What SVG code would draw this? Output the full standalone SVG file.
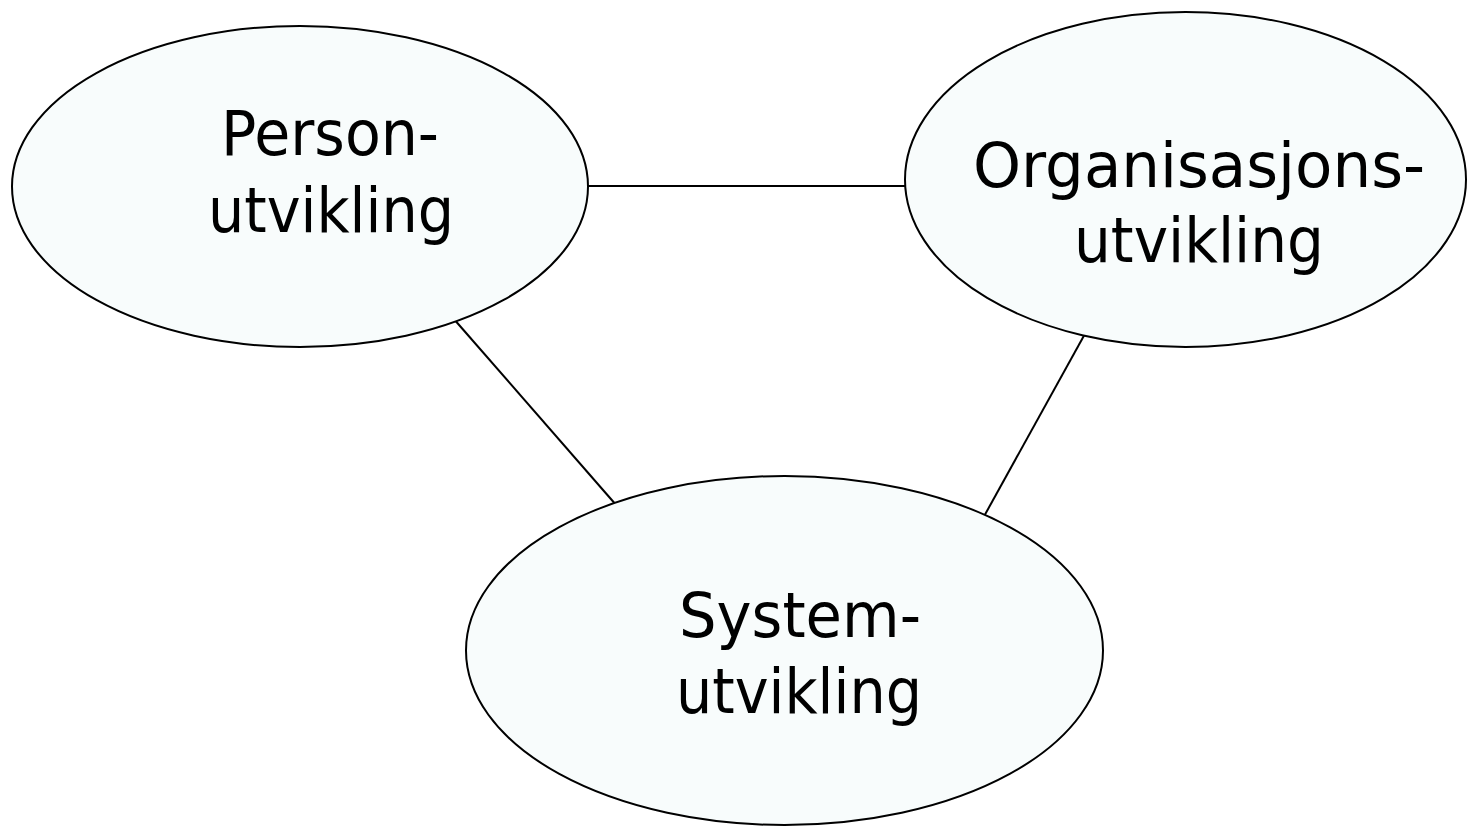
<svg xmlns="http://www.w3.org/2000/svg" width="1467" height="827" viewBox="0 0 1467 827">
  <style>
    .node ellipse { fill: #f8fcfc; stroke: #000; stroke-width: 2; }
    .node text { font-family: "DejaVu Sans", "Liberation Sans", sans-serif; font-size: 62px; fill: #000; text-anchor: middle; }
    .conn line { stroke: #000; stroke-width: 2; }
  </style>
  <rect x="0" y="0" width="1467" height="827" fill="#ffffff"/>
  <g id="connectors" class="conn">
    <line x1="588" y1="186" x2="905" y2="186"/>
    <line x1="453" y1="318" x2="617" y2="506"/>
    <line x1="1086" y1="332" x2="982" y2="520"/>
  </g>
  <g id="person" class="node">
    <ellipse cx="300" cy="186.5" rx="288" ry="160.5"/>
    <text x="330" y="155" textLength="218" lengthAdjust="spacingAndGlyphs">Person-</text>
    <text x="331" y="232" textLength="246" lengthAdjust="spacingAndGlyphs">utvikling</text>
  </g>
  <g id="organisasjon" class="node">
    <ellipse cx="1185.5" cy="179.5" rx="280.5" ry="167.5"/>
    <text x="1199" y="187" textLength="452" lengthAdjust="spacingAndGlyphs">Organisasjons-</text>
    <text x="1199" y="262" textLength="250" lengthAdjust="spacingAndGlyphs">utvikling</text>
  </g>
  <g id="system" class="node">
    <ellipse cx="784.5" cy="650.5" rx="318.5" ry="174.5"/>
    <text x="800" y="637" textLength="242" lengthAdjust="spacingAndGlyphs">System-</text>
    <text x="799" y="713" textLength="246" lengthAdjust="spacingAndGlyphs">utvikling</text>
  </g>
</svg>
